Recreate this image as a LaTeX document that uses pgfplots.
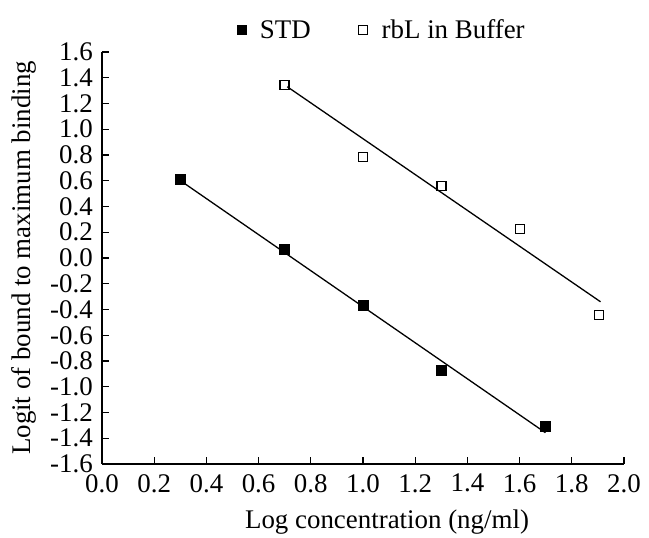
\documentclass[border=0pt]{standalone}
\usepackage{pgfplots}
\pgfplotsset{compat=1.18}
\usepackage{fontspec}
\setmainfont{Liberation Serif}
\begin{document}
\begin{tikzpicture}
\begin{axis}[
  scale only axis, width=522bp, height=412bp,
  xmin=0, xmax=2, ymin=-1.6, ymax=1.6,
  axis lines*=left,
  axis line style={line width=1.5bp},
  every tick/.style={line width=1.3bp, black},
  xtick={0,0.2,0.4,0.6,0.8,1.0,1.2,1.4,1.6,1.8,2.0},
  ytick={-1.6,-1.4,-1.2,-1.0,-0.8,-0.6,-0.4,-0.2,0,0.2,0.4,0.6,0.8,1.0,1.2,1.4,1.6},
  tick align=inside, major tick length=7bp,
  /pgf/number format/assume math mode=true,
  /pgf/number format/fixed,
  /pgf/number format/fixed zerofill,
  /pgf/number format/precision=1,
  font=\fontsize{27}{31}\selectfont,
  ticklabel style={font=\fontsize{27}{31}\selectfont},
  xticklabel style={inner sep=0pt, anchor=north, yshift=-10bp},
  yticklabel style={inner sep=0pt, anchor=east, xshift=-9bp},
  xlabel={Log concentration (ng/ml)},
  ylabel={Logit of bound to maximum binding},
  xlabel style={at={(axis description cs:0.546,-0.1408)}, anchor=center, font=\fontsize{27}{31}\selectfont},
  ylabel style={at={(axis description cs:-0.1494,0.5)}, anchor=center, font=\fontsize{27}{31}\selectfont},
  legend style={at={(axis description cs:0.536,1.053)}, anchor=center, draw=none, fill=none,
    legend columns=2, font=\fontsize{27}{31}\selectfont,
    /tikz/every odd column/.style={column sep=12bp},
    /tikz/every even column/.style={column sep=46bp}},
  legend cell align=left,
  legend image code/.code={\draw[#1, mark size=4.5bp] plot coordinates {(0.2cm,0cm)};},
]
\addplot[only marks, mark=square*, mark size=5bp, black] coordinates {
  (0.301,0.61) (0.699,0.07) (1.0,-0.365) (1.301,-0.868) (1.699,-1.305)};
\addlegendentry{STD}
\addplot[only marks, mark=square, mark size=4.5bp, black, mark options={line width=1.3bp}] coordinates {
  (0.699,1.344) (1.0,0.787) (1.301,0.559) (1.602,0.225) (1.903,-0.445)};
\addlegendentry{rbL in Buffer}
\addplot[black, line width=1.3bp, forget plot] coordinates {(0.301,0.60) (1.699,-1.357)};
\addplot[black, line width=1.3bp, forget plot] coordinates {(0.71,1.33) (1.91,-0.34)};
\end{axis}
\path (current axis.south west) ++(-102bp,-72bp) rectangle ++(649bp,536bp);
\end{tikzpicture}
\end{document}
